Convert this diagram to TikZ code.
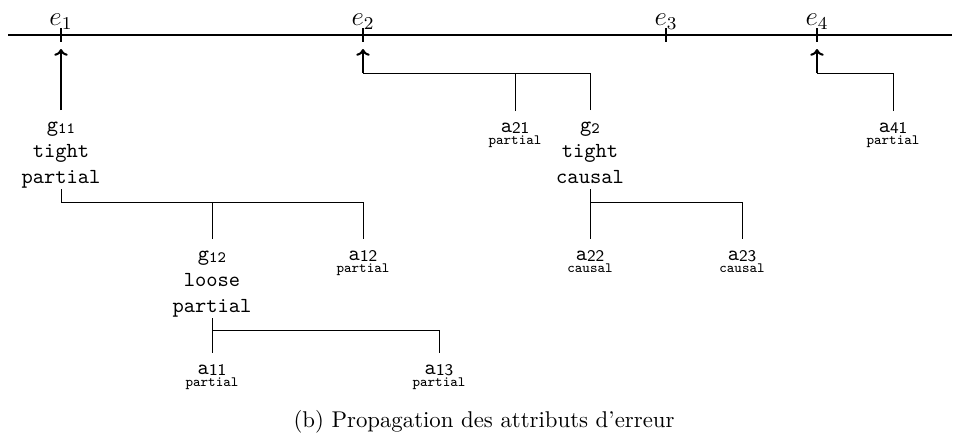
\documentclass[tikz,border=0pt]{standalone}
\usepackage{fontspec}
\usetikzlibrary{arrows.meta}
\newcommand\gsub[1]{\raisebox{-0.6pt}{\fontsize{7}{7}\selectfont #1}}
\newcommand\asub[1]{\raisebox{-0.5pt}{\fontsize{7.2}{7}\sffamily #1}}
\newcommand\tinyattr[1]{{\fontsize{6.3}{7}\selectfont #1}}
\newcommand\grouptext[3]{\begin{tabular}[t]{@{}c@{}}#1\\#2\\#3\end{tabular}}
\begin{document}
\begin{tikzpicture}[x=0.443pt,y=-0.443pt,
  axis/.style={line width=0.9pt},
  tickmark/.style={line width=0.9pt},
  conn/.style={line width=0.42pt},
  arr/.style={line width=0.9pt,-{To[length=3pt,width=6pt]}},
  ev/.style={inner sep=0pt,anchor=base,font=\large},
  grp/.style={font=\fontsize{9.5}{11.4}\selectfont\ttfamily, inner xsep=1pt, inner ysep=0pt, text height=9.4pt, text depth=25.3pt, anchor=north},
  leaf/.style={font=\fontsize{9.5}{11}\selectfont\ttfamily, align=center, inner xsep=1pt, inner ysep=4.9pt, anchor=north}]
\useasboundingbox (0,0) rectangle (960,440);
\coordinate (L) at (8,35);
\coordinate (R) at (952,35);
\draw[axis] (L) -- (R);
\foreach \n/\x in {1/61,2/363,3/666,4/817}{
  \coordinate (t\n) at (\x,35);
  \coordinate (p\n) at (\x,49);
  \draw[tickmark] (\x,28) -- (\x,42);
  \node[ev] (e\n) at (\x,25) {$e_\n$};
}
% groups and leaves
\node[grp] (g11) at (61,110) {\grouptext{g\gsub{11}}{tight}{partial}};
\node[leaf] (a21) at (515,111) {a\asub{21}\\[-5.5pt]\tinyattr{partial}};
\node[grp] (g2) at (590,110) {\grouptext{g\gsub{2}}{tight}{causal}};
\node[leaf] (a41) at (893,111) {a\asub{41}\\[-5.5pt]\tinyattr{partial}};
\node[grp] (g12) at (212,239) {\grouptext{g\gsub{12}}{loose}{partial}};
\node[leaf] (a12) at (363,239) {a\asub{12}\\[-5.5pt]\tinyattr{partial}};
\node[leaf] (a22) at (590,239) {a\asub{22}\\[-5.5pt]\tinyattr{causal}};
\node[leaf] (a23) at (742,239) {a\asub{23}\\[-5.5pt]\tinyattr{causal}};
\node[leaf] (a11) at (212,353) {a\asub{11}\\[-5.5pt]\tinyattr{partial}};
\node[leaf] (a13) at (439,353) {a\asub{13}\\[-5.5pt]\tinyattr{partial}};
% connectors to the time line
\coordinate (j2) at (363,73);
\coordinate (j4) at (817,73);
\draw[arr] (g11.north) -- (p1);
\draw[conn] (a21.north) -- (a21.north |- j2);
\draw[conn] (g2.north) |- (j2);
\draw[arr] (j2) -- (p2);
\draw[conn] (a41.north) |- (j4);
\draw[arr] (j4) -- (p4);
% trees
\coordinate (k1) at (61,202);
\draw[conn] (g11.south) -- (k1) -| (a12.north);
\draw[conn] (g12.north) -- (g12.north |- k1);
\coordinate (k2) at (590,202);
\draw[conn] (g2.south) -- (a22.north);
\draw[conn] (k2) -| (a23.north);
\coordinate (k3) at (212,330);
\draw[conn] (g12.south) -- (a11.north);
\draw[conn] (k3) -| (a13.north);
% caption
\node[anchor=base, inner sep=0pt, font=\fontsize{10.1}{12}\selectfont] (cap) at (484,427) {(b) Propagation des attributs d'erreur};
\end{tikzpicture}
\end{document}
